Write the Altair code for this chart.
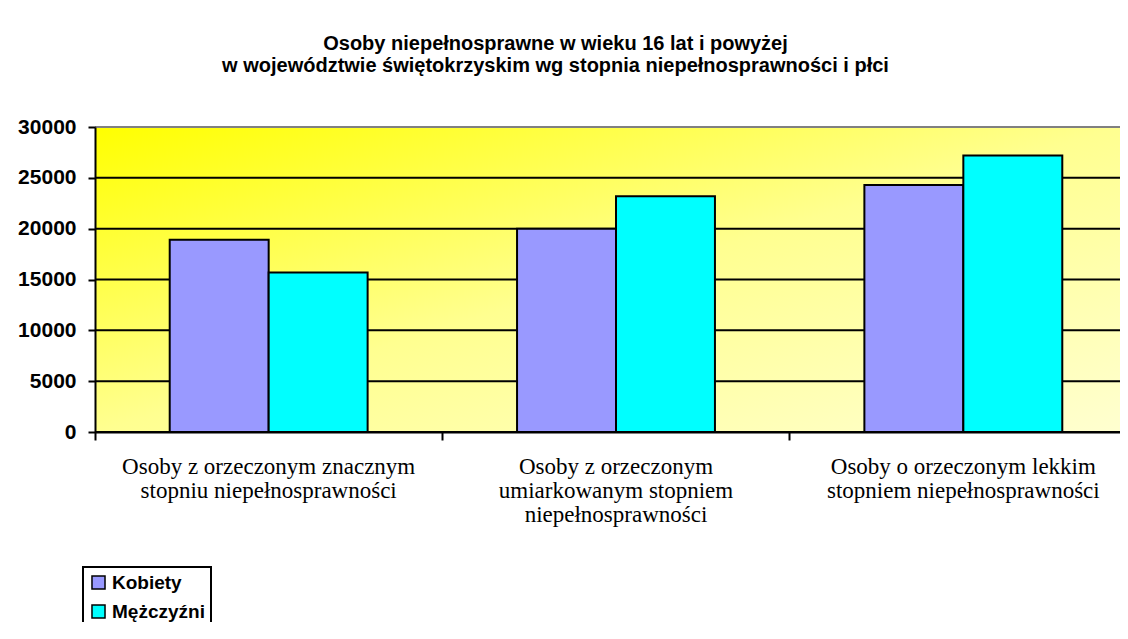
import altair as alt
import pandas as pd

categories = [
    "Osoby z orzeczonym znacznym\nstopniu niepełnosprawności",
    "Osoby z orzeczonym\numiarkowanym stopniem\nniepełnosprawności",
    "Osoby o orzeczonym lekkim\nstopniem niepełnosprawności",
]
series = ["Kobiety", "Mężczyźni"]
kobiety = [18900, 20000, 24300]
mezczyzni = [15700, 23200, 27200]
colors = ["#9999FF", "#00FFFF"]
y_ticks = [0, 5000, 10000, 15000, 20000, 25000, 30000]
title_lines = [
    "Osoby niepełnosprawne w wieku 16 lat i powyżej",
    "w województwie świętokrzyskim wg stopnia niepełnosprawności i płci",
]

rows = []
for i, c in enumerate(categories):
    rows.append({"kat": c, "plec": series[0], "wartosc": kobiety[i]})
    rows.append({"kat": c, "plec": series[1], "wartosc": mezczyzni[i]})
df = pd.DataFrame(rows)

W, H = 1025, 305
yscale = alt.Scale(domain=[0, 30000], nice=False)
yaxis = alt.Axis(
    title=None, values=y_ticks, format="d", grid=False, tickSize=7, tickWidth=2,
    tickColor="black", domainColor="black", domainWidth=2,
    labelFont="Liberation Sans", labelFontWeight="bold", labelFontSize=21,
    labelColor="black", labelPadding=12, zindex=1,
)

bg = alt.Chart(pd.DataFrame({"t": [0]})).mark_rect(
    fill=alt.Gradient(
        gradient="linear",
        x1=0, y1=0, x2=1, y2=1,
        stops=[
            alt.GradientStop(offset=0, color="#FFFF00"),
            alt.GradientStop(offset=0.5, color="#FFFF90"),
            alt.GradientStop(offset=1, color="#FFFFD0"),
        ],
    )
).encode(x=alt.value(0), x2=alt.value(W), y=alt.value(0), y2=alt.value(H))

grid = alt.Chart(pd.DataFrame({"v": y_ticks})).mark_rule(strokeWidth=2).encode(
    y=alt.Y("v:Q", scale=yscale, axis=yaxis),
    stroke=alt.condition("datum.v == 30000", alt.value("#808080"), alt.value("black")),
)

bars = alt.Chart(df).mark_bar(stroke="black", strokeWidth=2).encode(
    x=alt.X(
        "kat:N",
        sort=categories,
        scale=alt.Scale(paddingInner=0, paddingOuter=0, range=[0, 1042]),
        axis=alt.Axis(
            title=None, labelAngle=0, labelExpr="split(datum.label, '\\n')",
            bandPosition=0, ticks=True, tickSize=8, tickWidth=2, tickColor="black",
            domainColor="black", domainWidth=2, labelFont="Liberation Serif",
            labelFontSize=23, labelColor="black", labelPadding=15,
            labelLineHeight=24, labelLimit=0, grid=False, zindex=1,
        ),
    ),
    xOffset=alt.XOffset("plec:N", sort=series, scale=alt.Scale(paddingOuter=0.755, paddingInner=0)),
    y=alt.Y("wartosc:Q", scale=yscale, axis=yaxis),
    color=alt.Color(
        "plec:N", sort=series,
        scale=alt.Scale(domain=series, range=colors),
        legend=alt.Legend(
            title=None, orient="none", legendX=-12, legendY=440,
            strokeColor="black", padding=6, symbolType="square", symbolSize=170,
            symbolStrokeColor="black", symbolStrokeWidth=1.5,
            labelFont="Liberation Sans", labelFontWeight="bold", labelFontSize=19,
            labelColor="black", rowPadding=8, labelOffset=4,
        ),
    ),
)

chart = alt.layer(bg, grid, bars).properties(
    width=W, height=H,
    autosize=alt.AutoSizeParams(type="none"),
    padding={"left": 87, "top": 119, "right": 0, "bottom": 190},
    title=alt.TitleParams(
        text=title_lines, font="Liberation Sans", fontWeight="bold", fontSize=20,
        color="black", anchor="middle", dx=-52, offset=40, lineHeight=22,
    ),
).configure_view(stroke=None).configure_legend(strokeWidth=2)

chart.save("out.html", embed_options={"renderer": "svg", "actions": False})
